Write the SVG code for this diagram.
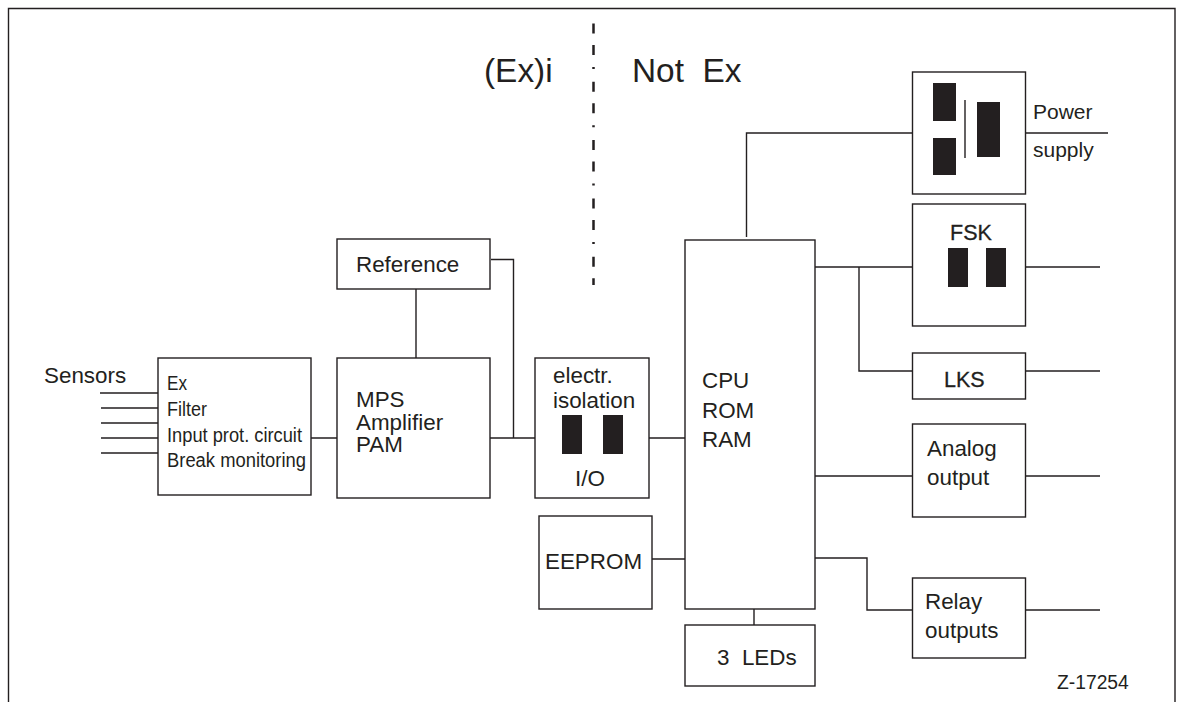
<svg xmlns="http://www.w3.org/2000/svg" width="1182" height="702" viewBox="0 0 1182 702">
<style>
.b{fill:#fff;stroke:#231f20;stroke-width:1.4}
.l{fill:none;stroke:#231f20;stroke-width:1.4}
.k{fill:#231f20;stroke:none}
text{font-family:"Liberation Sans",Arial,sans-serif;fill:#231f20;font-size:22.400px}
.s{font-size:20px}
.p{font-size:21px}
.h{font-size:21.500px;stroke:#231f20;stroke-width:.3}
.t{font-size:33.400px}
</style>
<rect width="1182" height="702" fill="#fff"/>
<path class="l" d="M8.500 702V8.500H1175V702"/>
<g id="connectors">
<path class="l" d="M100 393H158M101 408H158M101 423H158M101 438H158M101 453H158M311 438H337M416 289V358M490 438H536M491 259.500H513.500V438M649 438H686M652 559H685M746.500 237V133H912.500M1025 133H1108M815 267H912.500M859 267V371H912.500M1025.500 267H1100M1025.500 371H1100M815 476H912.500M1025.500 476H1100M815 558H867V610H912.500M1025.500 610H1100M754 609V625"/>
<path fill="none" stroke="#231f20" stroke-width="2.500" stroke-dasharray="10 11.500 10 12 2 12.800" d="M593.500 23.500V285"/>
</g>
<g id="sensors"><text x="44" y="383">Sensors</text></g>
<g id="ex"><rect class="b" x="158" y="358" width="153" height="137"/>
<text class="s" x="167" y="390" textLength="20" lengthAdjust="spacingAndGlyphs">Ex</text><text class="s" x="167" y="416" textLength="40" lengthAdjust="spacingAndGlyphs">Filter</text><text class="s" x="167" y="442" textLength="135" lengthAdjust="spacingAndGlyphs">Input prot. circuit</text><text class="s" x="167" y="467" textLength="139" lengthAdjust="spacingAndGlyphs">Break monitoring</text></g>
<g id="mps"><rect class="b" x="337" y="358" width="153" height="140"/>
<text x="356" y="407">MPS</text><text x="356" y="429.500">Amplifier</text><text x="356" y="452">PAM</text></g>
<g id="reference"><rect class="b" x="337" y="239" width="153" height="50"/><text x="356" y="272">Reference</text></g>
<g id="iso"><rect class="b" x="535" y="358" width="114" height="140"/>
<text x="553" y="383">electr.</text><text x="553" y="408">isolation</text>
<rect class="k" x="562" y="415" width="20" height="39"/><rect class="k" x="603" y="415" width="20" height="39"/>
<text x="575" y="486">I/O</text></g>
<g id="eeprom"><rect class="b" x="539" y="516" width="113" height="93"/><text x="545" y="569">EEPROM</text></g>
<g id="cpu"><rect class="b" x="685" y="240" width="130" height="369"/>
<text x="702" y="388">CPU</text><text x="702" y="418">ROM</text><text x="702" y="447">RAM</text></g>
<g id="leds"><rect class="b" x="685" y="625" width="130" height="61"/><text x="717" y="665" xml:space="preserve">3  LEDs</text></g>
<g id="power"><rect class="b" x="912.500" y="72" width="113" height="122"/>
<rect class="k" x="933" y="83" width="23" height="38"/><rect class="k" x="933" y="138" width="23" height="37"/><rect class="k" x="977" y="102" width="23" height="55"/>
<path class="l" d="M965 100V158"/>
<text class="p" x="1033" y="119">Power</text><text class="p" x="1033" y="157">supply</text></g>
<g id="fsk"><rect class="b" x="912.500" y="204" width="113" height="122"/><text class="h" x="950" y="240">FSK</text>
<rect class="k" x="948" y="248" width="20" height="39"/><rect class="k" x="986" y="248" width="20" height="39"/></g>
<g id="lks"><rect class="b" x="912.500" y="353" width="113" height="46"/><text class="h" x="944" y="387">LKS</text></g>
<g id="analog"><rect class="b" x="912.500" y="424" width="113" height="93"/><text x="927" y="456">Analog</text><text x="927" y="485">output</text></g>
<g id="relay"><rect class="b" x="912.500" y="578" width="113" height="80"/><text x="925" y="609">Relay</text><text x="925" y="638">outputs</text></g>
<g id="labels"><text class="t" x="484" y="82">(Ex)i</text><text class="t" x="632" y="82" xml:space="preserve">Not  Ex</text><text x="1057" y="689" style="font-size:19.300px">Z-17254</text></g>
</svg>
